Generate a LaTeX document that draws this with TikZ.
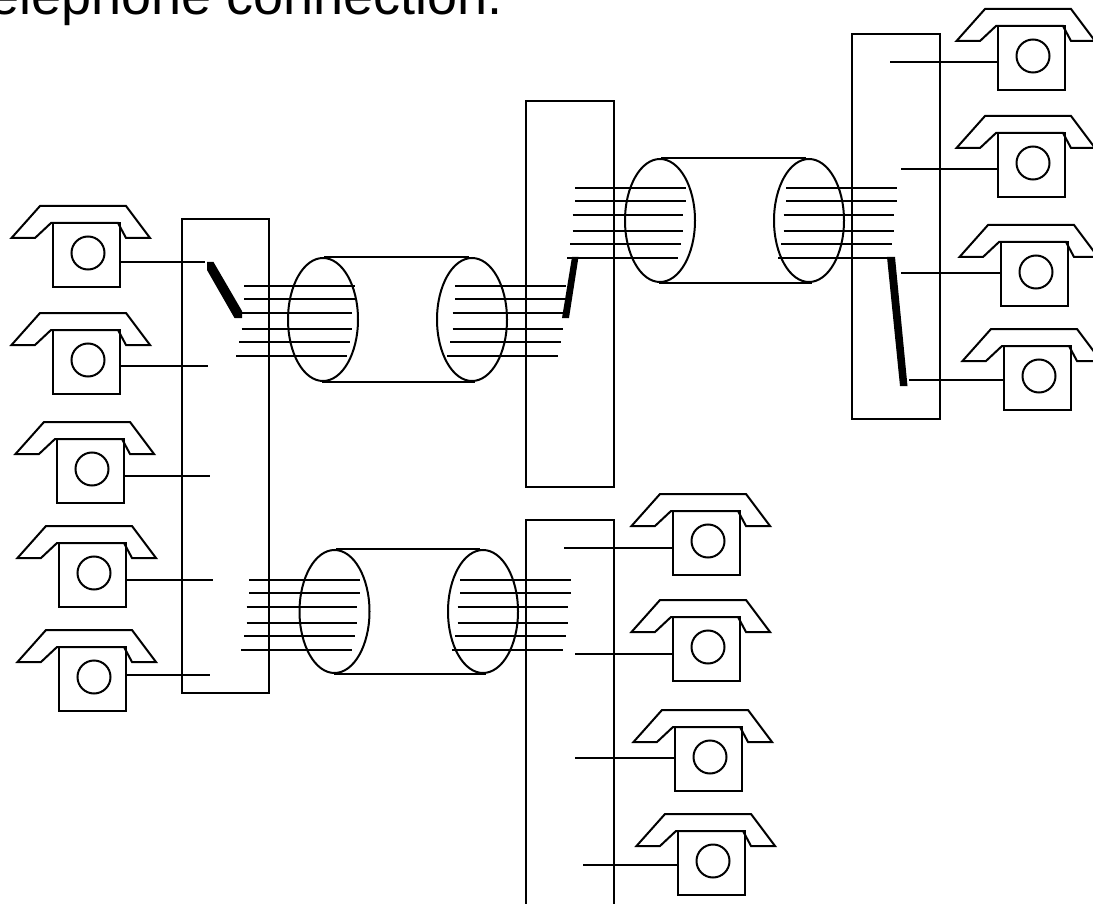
\documentclass[tikz,border=0pt]{standalone}
\usepackage{fontspec}
\setmainfont{Liberation Sans}
\tikzset{
  wire/.style={line width=2pt},
  exchange/.style={line width=2pt},
  cable/.style={line width=2pt},
  phonepart/.style={line width=2pt,line join=miter},
  switchbar/.style={fill=black,draw=none},
  title/.style={inner sep=0pt,anchor=base east,font=\fontsize{54}{60}\selectfont}
}
% name, box left, box top, wire y, wire far end x
\newcommand{\phoneset}[5]{%
  \coordinate (#1) at (#2,#3);
  \coordinate (#1w) at (#5,#4);
  \draw[phonepart] ([shift={(-2,0)}]#1) -- ([shift={(-18,15)}]#1) -- ([shift={(-41.5,15)}]#1)
    -- ([shift={(-13,-17)}]#1) -- ([shift={(73,-17)}]#1) -- ([shift={(97,15)}]#1)
    -- ([shift={(73,15)}]#1) -- ([shift={(65,0)}]#1) -- cycle;
  \draw[phonepart] (#1) rectangle ([shift={(67,64)}]#1);
  \draw[phonepart] ([shift={(35,30)}]#1) circle[radius=16.5];
}
% left-phone wire leaves the right side of the box, right-phone wire the left side
\newcommand{\leftset}[5]{\phoneset{#1}{#2}{#3}{#4}{#5}
  \coordinate (#1p) at ([xshift=67]#1 |- #1w);
  \draw[wire] (#1p) -- (#1w);}
\newcommand{\rightset}[5]{\phoneset{#1}{#2}{#3}{#4}{#5}
  \draw[wire] (#1 |- #1w) -- (#1w);}
% name, x, six wires
\newcommand{\bundle}[2]{%
  \foreach \dy/\dx in {0/0,13/0,27/-2.5,43/-2.5,56/-5,70/-8}{
    \draw[wire] (#1,#2+\dy) ++(\dx,0) -- ++(110.5,0);
  }}
% name, left centre x, right centre x, centre y
\newcommand{\cableset}[4]{%
  \node[cable,draw,ellipse,minimum width=70pt,minimum height=123pt,inner sep=0pt] (#1a) at (#2,#4) {};
  \node[cable,draw,ellipse,minimum width=70pt,minimum height=123pt,inner sep=0pt] (#1b) at (#3,#4) {};
  \draw[cable] ([xshift=1]#1a.north) -- ([xshift=-3]#1b.north);
  \draw[cable] ([xshift=-1]#1a.south) -- ([xshift=3]#1b.south);
}
\usetikzlibrary{shapes.geometric}
\begin{document}
\begin{tikzpicture}[x=1pt,y=-1pt]
\useasboundingbox (0,0) rectangle (1093,904);
\clip (0,0) rectangle (1093,904);
\fill[white] (0,0) rectangle (1093,904);

\node[title] (caption) at (503,15) {telephone connection.};

% exchanges
\draw[exchange] (182,219) rectangle (269,693);
\draw[exchange] (526,101) rectangle (614,487);
\draw[exchange] (852,34) rectangle (940,419);
\draw[exchange] (526,930) -- (526,520) -- (614,520) -- (614,930);

% cables
\cableset{ca}{323}{472}{319.5}
\cableset{cb}{660}{809}{220.5}
\cableset{cc}{334.5}{483}{611.5}

% wire bundles
\bundle{244}{286}
\bundle{455}{286}
\bundle{575}{188}
\bundle{786}{188}
\bundle{249}{580}
\bundle{460}{580}

% closed switches
\fill[switchbar] (207,262) -- (213.5,262) -- (242,311) -- (242,318) -- (234.5,318) -- (207,270) -- cycle;
\fill[switchbar] (572,257) -- (578.5,257) -- (569,318) -- (562,318) -- cycle;
\fill[switchbar] (887,257) -- (895,257) -- (907.5,386) -- (900,386) -- cycle;

% telephones
\leftset{la}{53}{223}{262}{205}
\leftset{lb}{53}{330}{366}{208}
\leftset{lc}{57}{439}{476}{210}
\leftset{ld}{59}{543}{580}{213}
\leftset{le}{59}{647}{675}{210}

\rightset{ra}{998}{26}{62}{890}
\rightset{rb}{998}{133}{169}{901}
\rightset{rc}{1001}{242}{273}{901}
\rightset{rd}{1004}{346}{380}{909}

\rightset{ba}{673}{511}{548}{564}
\rightset{bb}{673}{617}{654}{575}
\rightset{bc}{675}{727}{758}{575}
\rightset{bd}{678}{831}{865}{583}
\end{tikzpicture}
\end{document}
